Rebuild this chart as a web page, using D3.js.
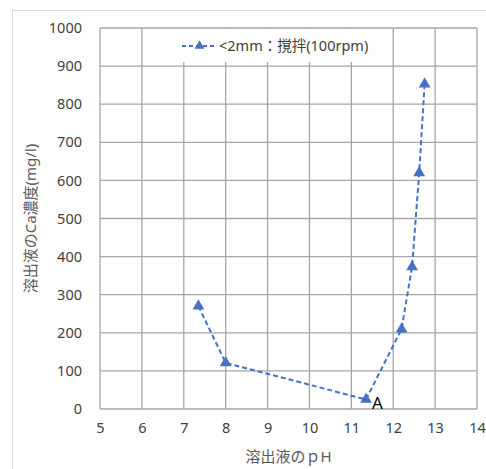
<!DOCTYPE html>
<html>
<head>
<meta charset="utf-8">
<script src="https://cdn.jsdelivr.net/npm/d3@7"></script>
<style>
  body { margin: 0; background: #fff; }
  svg { display: block; }
</style>
</head>
<body>
<div id="chart"></div>
<script>
const width = 486;
const height = 469;

// data
const phValues = [7.35, 8.0, 11.35, 12.2, 12.45, 12.62, 12.75];
const caValues = [270, 121, 25, 210, 373, 620, 853];
const xTicks = [5, 6, 7, 8, 9, 10, 11, 12, 13, 14];
const yTicks = [0, 100, 200, 300, 400, 500, 600, 700, 800, 900, 1000];
const seriesName = "<2mm：撹拌(100rpm)";
const pointLabel = "A";

const margin = {top: 28, right: 9, bottom: 60, left: 100};

const svg = d3.select("#chart")
              .append("svg")
              .attr("width", width)
              .attr("height", height);

// outer chart border
svg.append("rect")
   .attr("x", 12.5).attr("y", 10.5)
   .attr("width", 490).attr("height", 480)
   .attr("fill", "none")
   .attr("stroke", "#d9d9d9");

const x = d3.scaleLinear().domain([5, 14]).range([margin.left, width - margin.right]);
const y = d3.scaleLinear().domain([0, 1000]).range([height - margin.bottom, margin.top]);

const font = "'Noto Sans', 'Noto Sans CJK JP', sans-serif";

// grid
svg.append("g")
   .selectAll("line")
   .data(xTicks)
   .join("line")
   .attr("x1", d => x(d)).attr("x2", d => x(d))
   .attr("y1", y(0)).attr("y2", y(1000))
   .attr("stroke", "#a6a6a6")
   .attr("stroke-width", 1.3);

svg.append("g")
   .selectAll("line")
   .data(yTicks)
   .join("line")
   .attr("x1", x(5)).attr("x2", x(14))
   .attr("y1", d => y(d)).attr("y2", d => y(d))
   .attr("stroke", "#a6a6a6")
   .attr("stroke-width", 1.3);

// tick labels
const xAxis = svg.append("g")
   .attr("transform", `translate(0,${y(0)})`)
   .call(d3.axisBottom(x).tickValues(xTicks).tickFormat(d3.format("d")).tickSize(0).tickPadding(14));
const yAxis = svg.append("g")
   .attr("transform", `translate(${x(5)},0)`)
   .call(d3.axisLeft(y).tickValues(yTicks).tickFormat(d3.format("d")).tickSize(0).tickPadding(18));
[xAxis, yAxis].forEach(g => {
  g.select(".domain").remove();
  g.selectAll("text")
   .attr("fill", "#404040")
   .style("font-family", font)
   .style("font-size", "14.5px");
});

// legend box
const legend = svg.append("g");
legend.append("rect")
      .attr("x", 150).attr("y", 29)
      .attr("width", 236).attr("height", 33)
      .attr("fill", "#fff");
legend.append("line")
      .attr("x1", 182).attr("x2", 217)
      .attr("y1", 46).attr("y2", 46)
      .attr("stroke", "#4472c4")
      .attr("stroke-width", 2)
      .attr("stroke-dasharray", "4,3");
legend.append("path")
      .attr("d", d3.symbol(d3.symbolTriangle, 42)())
      .attr("transform", "translate(199.5,46)")
      .attr("fill", "#4472c4");
legend.append("text")
      .attr("x", 219).attr("y", 51)
      .attr("fill", "#404040")
      .style("font-family", font)
      .style("font-size", "14.5px")
      .text(seriesName);

// series
const points = phValues.map((d, i) => [d, caValues[i]]);
const line = d3.line().x(d => x(d[0])).y(d => y(d[1]));

svg.append("path")
   .datum(points)
   .attr("d", line)
   .attr("fill", "none")
   .attr("stroke", "#4472c4")
   .attr("stroke-width", 2)
   .attr("stroke-dasharray", "5,3");

svg.append("g")
   .selectAll("path")
   .data(points)
   .join("path")
   .attr("d", d3.symbol(d3.symbolTriangle, 60)())
   .attr("transform", d => `translate(${x(d[0])},${y(d[1])})`)
   .attr("fill", "#4472c4");

svg.append("text")
   .attr("x", x(phValues[2]) + 6)
   .attr("y", y(caValues[2]) + 10)
   .attr("fill", "#000")
   .style("font-family", font)
   .style("font-size", "17px")
   .text(pointLabel);

// axis titles
svg.append("text")
   .attr("x", (x(5) + x(14)) / 2)
   .attr("y", 462)
   .attr("text-anchor", "middle")
   .attr("fill", "#595959")
   .style("font-family", font)
   .style("font-size", "15px")
   .text("溶出液のｐH");

svg.append("text")
   .attr("transform", `translate(36,${(y(0) + y(1000)) / 2}) rotate(-90)`)
   .attr("text-anchor", "middle")
   .attr("fill", "#595959")
   .style("font-family", font)
   .style("font-size", "15px")
   .text("溶出液のCa濃度(mg/l)");
</script>
</body>
</html>
